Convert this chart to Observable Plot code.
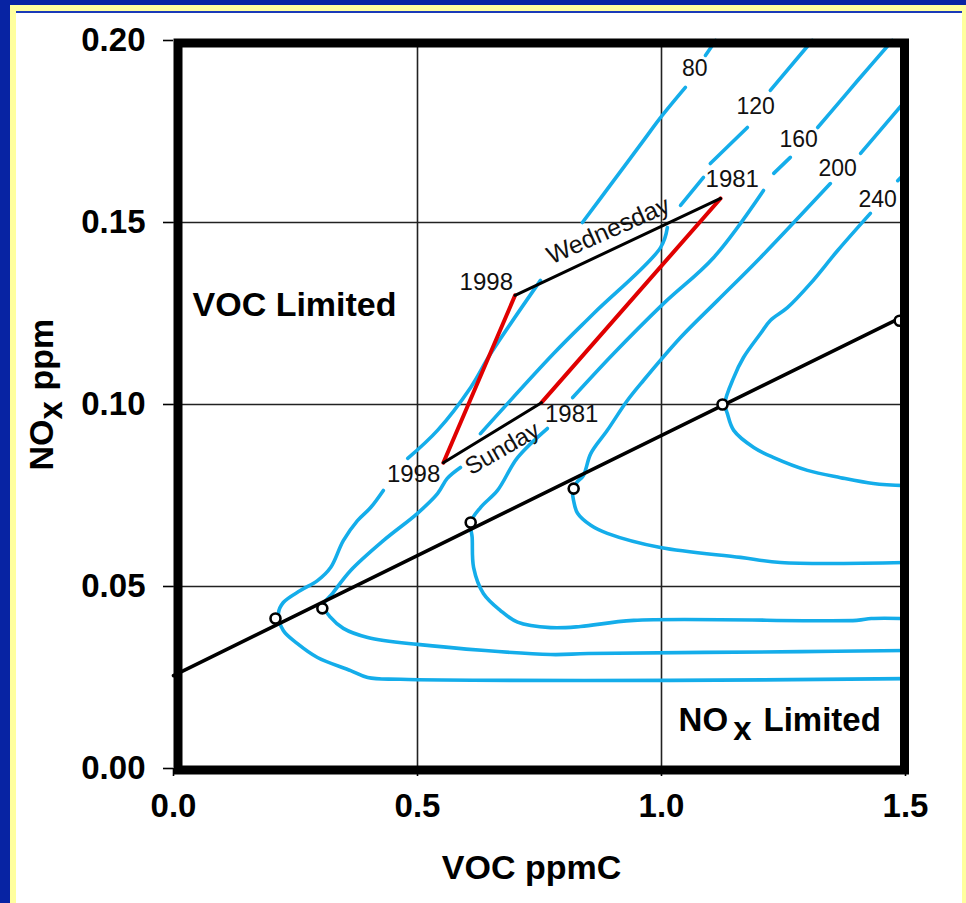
<!DOCTYPE html>
<html><head><meta charset="utf-8">
<script src="https://cdn.jsdelivr.net/npm/d3@7"></script>
<script src="https://cdn.jsdelivr.net/npm/@observablehq/plot@0.6"></script>
<style>
html,body{margin:0;padding:0;}
body{width:966px;height:903px;overflow:hidden;background:#0723A3;position:relative;font-family:"Liberation Sans",Arial,sans-serif;}
#yellow{position:absolute;left:10px;top:5px;width:956px;height:898px;background:#FFFF9E;}
#white{position:absolute;left:16px;top:11px;width:946px;height:892px;background:#fff;border-top:2px solid #1A3AB8;box-sizing:border-box;}
#chart{position:absolute;left:0;top:0;}
</style></head>
<body>
<div id="yellow"></div><div id="white"></div><div id="chart"></div>
<script>
// ---- data (VOC ppmC, NOx ppm) ----
const xTicks = [0, 0.5, 1.0, 1.5];
const yTicks = [0, 0.05, 0.10, 0.15, 0.20];
const xGrid = [0.5, 1.0];
const yGrid = [0.05, 0.10, 0.15];

const contourLevels = ["80", "120", "160", "200", "240"];
// each isopleth is a list of drawn pieces (gaps where labels sit)
const iso80 = [
  [[1.5,0.0247],[1.018,0.0242],[0.465,0.0245],[0.398,0.0250],[0.363,0.0269],[0.295,0.0305],[0.254,0.0343],[0.225,0.0379],[0.215,0.0426],[0.225,0.0456],[0.260,0.0489],[0.295,0.0516],[0.322,0.0552],[0.348,0.0626],[0.377,0.0681],[0.404,0.0717],[0.430,0.0764]],
  [[0.480,0.0852],[0.541,0.0929],[0.609,0.1047],[0.650,0.1140],[0.752,0.1341]],
  [[0.838,0.1500],[0.902,0.1615],[0.963,0.1725],[0.998,0.1788],[1.049,0.1871]],
  [[1.090,0.1959],[1.111,0.2]]
];
const iso120 = [
  [[1.5,0.0324],[1.285,0.0321],[0.850,0.0316],[0.773,0.0313],[0.500,0.0341],[0.398,0.0360],[0.348,0.0385],[0.322,0.0415],[0.307,0.0448],[0.326,0.0481],[0.363,0.0544],[0.430,0.0626],[0.500,0.0701],[0.541,0.0755],[0.561,0.0797],[0.588,0.0827]],
  [[0.629,0.0920],[0.779,0.1140],[0.861,0.1250],[0.998,0.1431],[1.012,0.1486]],
  [[1.039,0.1547],[1.086,0.1624]],
  [[1.100,0.1662],[1.176,0.1761]],
  [[1.223,0.1863],[1.309,0.2]]
];
const iso160 = [
  [[1.5,0.0412],[1.43,0.0412],[1.40,0.0407],[0.943,0.0407],[0.834,0.0390],[0.773,0.0387],[0.705,0.0402],[0.670,0.0434],[0.635,0.0481],[0.615,0.0552],[0.612,0.0635],[0.609,0.0676],[0.629,0.0717],[0.664,0.0764],[0.705,0.0854],[0.766,0.0934]],
  [[0.818,0.1019],[0.902,0.1140],[1.004,0.1277],[1.107,0.1404],[1.209,0.1588]],
  [[1.230,0.1635],[1.264,0.1679]],
  [[1.320,0.1761],[1.367,0.1835],[1.402,0.1890],[1.473,0.2]]
];
const iso200 = [
  [[1.5,0.0566],[1.244,0.0566],[1.162,0.0580],[0.998,0.0607],[0.889,0.0646],[0.855,0.0668],[0.828,0.0701],[0.820,0.0735],[0.818,0.0762],[0.826,0.0785],[0.840,0.0805],[0.855,0.0865],[0.889,0.0929],[0.930,0.1011],[0.963,0.1066],[1.039,0.1184],[1.115,0.1286],[1.203,0.1404],[1.346,0.1607]],
  [[1.408,0.1690],[1.5,0.1835]]
];
const iso240 = [
  [[1.5,0.0777],[1.434,0.0783],[1.367,0.0799],[1.299,0.0819],[1.230,0.0854],[1.189,0.0882],[1.148,0.0929],[1.135,0.0975],[1.130,0.1003],[1.148,0.1074],[1.168,0.1129],[1.203,0.1195],[1.223,0.1231],[1.258,0.1266],[1.305,0.1332],[1.361,0.1423],[1.428,0.1525]],
  [[1.484,0.1615],[1.5,0.1637]]
];
const contourLabelVOC = [1.068, 1.193, 1.281, 1.361, 1.443];
const contourLabelNOx = [0.1923, 0.1819, 0.1728, 0.1648, 0.1563];

// ridge line (VOC/NOx ratio line) and its marked points
const ridgeLineVOC = [0, 1.5];
const ridgeLineNOx = [0.0255, 0.1245];
const ridgePointVOC = [0.209, 0.305, 0.609, 0.820, 1.125, 1.488];
const ridgePointNOx = [0.0412, 0.0440, 0.0676, 0.0769, 0.1000, 0.1230];

// weekday trajectories 1998 -> 1981
const years = ["1998", "1981"];
const wedVOC = [0.700, 1.121];
const wedNOx = [0.1300, 0.1566];
const sunVOC = [0.553, 0.754];
const sunNOx = [0.0840, 0.1005];

// annotation texts
const yearLabelText = ["1998", "1981", "1998", "1981"];
const yearLabelVOC = [0.641, 1.145, 0.492, 0.816];
const yearLabelNOx = [0.1335, 0.1618, 0.0808, 0.0973];
const dayLabelText = ["Wednesday", "Sunday"];
const dayLabelVOC = [0.891, 0.674];
const dayLabelNOx = [0.1478, 0.0879];

// ---- tables built from the arrays ----
const isoSets = [iso80, iso120, iso160, iso200, iso240];
const contourTable = [];
isoSets.forEach((segs, li) => segs.forEach((seg, si) => seg.forEach(([x, y]) =>
  contourTable.push({level: contourLevels[li], seg: contourLevels[li] + "-" + si, x, y}))));
const ridgeLine = ridgeLineVOC.map((x, i) => ({x, y: ridgeLineNOx[i]}));
const ridgePts = ridgePointVOC.map((x, i) => ({x, y: ridgePointNOx[i]}));
const wedLine = years.map((yr, i) => ({year: yr, x: wedVOC[i], y: wedNOx[i]}));
const sunLine = years.map((yr, i) => ({year: yr, x: sunVOC[i], y: sunNOx[i]}));
const redLines = years.flatMap((yr, i) => [
  {year: yr, x: wedVOC[i], y: wedNOx[i]},
  {year: yr, x: sunVOC[i], y: sunNOx[i]}
]);
const contourLabels = contourLevels.map((t, i) => ({t, x: contourLabelVOC[i], y: contourLabelNOx[i]}));
const yearLabels = yearLabelText.map((t, i) => ({t, x: yearLabelVOC[i], y: yearLabelNOx[i]}));
const dayLabels = dayLabelText.map((t, i) => ({t, x: dayLabelVOC[i], y: dayLabelNOx[i]}));

const FONT = "'Liberation Sans', Arial, Helvetica, sans-serif";
const BLUE = "#14ADEA";

const chart = Plot.plot({
  width: 966, height: 903,
  marginLeft: 173, marginRight: 61, marginTop: 40, marginBottom: 135,
  x: {domain: [0, 1.5]},
  y: {domain: [0, 0.2]},
  style: {background: "transparent", fontFamily: FONT, color: "#000", overflow: "visible"},
  marks: [
    Plot.ruleX(xGrid, {stroke: "#222", strokeWidth: 1.6}),
    Plot.ruleY(yGrid, {stroke: "#222", strokeWidth: 1.6}),
    Plot.line(contourTable, {x: "x", y: "y", z: "seg", stroke: BLUE, strokeWidth: 3.6, curve: "catmull-rom", strokeLinecap: "round"}),
    Plot.line(ridgeLine, {x: "x", y: "y", stroke: "#000", strokeWidth: 3.5}),
    Plot.line(redLines, {x: "x", y: "y", z: "year", stroke: "#E00000", strokeWidth: 4}),
    Plot.line(wedLine, {x: "x", y: "y", stroke: "#000", strokeWidth: 3}),
    Plot.line(sunLine, {x: "x", y: "y", stroke: "#000", strokeWidth: 3}),
    Plot.dot(ridgePts, {x: "x", y: "y", r: 5, stroke: "#000", strokeWidth: 2.6, fill: "#fff"}),
    Plot.frame({stroke: "#000", strokeWidth: 9, insetLeft: 4.5, insetTop: 2.5, insetRight: 1, insetBottom: -1.5}),
    Plot.axisX(xTicks, {tickSize: 8, tickPadding: 17, tickFormat: d3.format(".1f"), fontSize: 33, fontWeight: "bold", label: null, strokeWidth: 1.6}),
    Plot.axisY(yTicks, {tickSize: 10, tickPadding: 18, tickFormat: d3.format(".2f"), fontSize: 33, fontWeight: "bold", label: null, strokeWidth: 1.6}),
    // isopleth labels
    Plot.text(contourLabels, {x: "x", y: "y", text: "t", fontSize: 23, fill: "#111"}),
    // year labels
    Plot.text(yearLabels, {x: "x", y: "y", text: "t", fontSize: 24, fill: "#111"}),
    // day labels
    Plot.text(dayLabels.slice(0, 1), {x: "x", y: "y", text: "t", rotate: -24, fontSize: 25, fill: "#111"}),
    Plot.text(dayLabels.slice(1), {x: "x", y: "y", text: "t", rotate: -30, fontSize: 24, fill: "#111"}),
    // region labels
    Plot.text([{t: "VOC Limited", x: 0.039, y: 0.1272}], {x: "x", y: "y", text: "t", textAnchor: "start", fontSize: 34, fontWeight: "bold"}),
    Plot.text([{t: "NO", x: 1.035, y: 0.0104}], {x: "x", y: "y", text: "t", textAnchor: "start", lineAnchor: "bottom", fontSize: 33, fontWeight: "bold"}),
    Plot.text([{t: "x", x: 1.147, y: 0.0077}], {x: "x", y: "y", text: "t", textAnchor: "start", lineAnchor: "bottom", fontSize: 33, fontWeight: "bold"}),
    Plot.text([{t: "Limited", x: 1.209, y: 0.0104}], {x: "x", y: "y", text: "t", textAnchor: "start", lineAnchor: "bottom", fontSize: 33, fontWeight: "bold"}),
    // axis titles
    Plot.text(["VOC ppmC"], {frameAnchor: "bottom", textAnchor: "middle", lineAnchor: "bottom", dx: -8, dy: 110, fontSize: 34, fontWeight: "bold"}),
    Plot.text(["NO"], {frameAnchor: "left", rotate: -90, textAnchor: "start", lineAnchor: "bottom", dx: -121, dy: 66, fontSize: 34, fontWeight: "bold"}),
    Plot.text(["x"], {frameAnchor: "left", rotate: -90, textAnchor: "start", lineAnchor: "bottom", dx: -112, dy: 15, fontSize: 33, fontWeight: "bold"}),
    Plot.text(["ppm"], {frameAnchor: "left", rotate: -90, textAnchor: "start", lineAnchor: "bottom", dx: -121, dy: -14, fontSize: 34, fontWeight: "bold"})
  ]
});
document.getElementById("chart").appendChild(chart);
</script>
</body></html>
